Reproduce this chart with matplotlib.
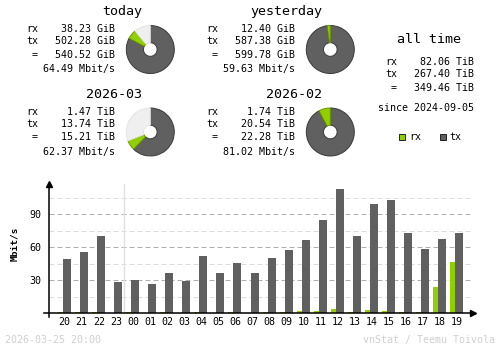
import numpy as np
import matplotlib
matplotlib.use("Agg")
import matplotlib.pyplot as plt
from matplotlib.patches import Wedge, Rectangle

# summary blocks
periods = ["today", "yesterday", "2026-03", "2026-02"]
rx_vals = [38.23, 12.40, 1.47, 1.74]
tx_vals = [502.28, 587.38, 13.74, 20.54]
totals = [540.52, 599.78, 15.21, 22.28]
units = ["GiB", "GiB", "TiB", "TiB"]
rates = [64.49, 59.63, 62.37, 81.02]
filled = [0.89, 1.0, 0.69, 1.0]   # share of the donut that is coloured

all_rx, all_tx, all_total = 82.06, 267.40, 349.46
since = "2024-09-05"

# hourly averages, Mbit/s
hours = ["20", "21", "22", "23", "00", "01", "02", "03", "04", "05", "06", "07",
         "08", "09", "10", "11", "12", "13", "14", "15", "16", "17", "18", "19"]
hour_rx = [1.0, 1.0, 1.0, 0.2, 1.0, 0.2, 1.0, 0.2, 1.0, 0.2, 1.0, 0.2,
           1.0, 1.0, 2.1, 2.1, 3.9, 1.0, 3.0, 2.1, 1.0, 1.0, 23.9, 46.7]
hour_tx = [49.4, 55.8, 70.3, 28.5, 30.3, 26.7, 36.7, 29.4, 52.1, 36.7, 45.8, 36.7,
           50.3, 57.6, 66.7, 84.8, 113.0, 70.3, 99.4, 103.0, 73.0, 58.5, 67.6, 73.0]

RX = "#92cf00"
TX = "#606060"
MONO = "DejaVu Sans Mono"
plt.rcParams["font.family"] = MONO

fig = plt.figure(figsize=(5, 3.48), dpi=100)
bg = fig.add_axes([0, 0, 1, 1])
bg.set_xlim(0, 500)
bg.set_ylim(348, 0)
bg.axis("off")


def donut(cx, cy, rx, tx, fill):
    r, rin = 24, 6.8
    total = 360 * fill
    tx_ang = total * tx / (rx + tx)
    # angles are given clockwise from 12 o'clock; y axis is flipped
    parts = [(0, tx_ang, TX, "#3a3a3a"),
             (tx_ang, total, RX, "#6a9600"),
             (total, 360, "#efefef", "#e4e4e4")]
    for a, b, col, ec in parts:
        if b - a <= 0:
            continue
        bg.add_patch(Wedge((cx, cy), r, a - 90, b - 90, width=r - rin,
                           facecolor=col, edgecolor=ec, linewidth=0.7))


def block(x0, y0, i):
    bg.text(x0 + 116, y0 - 17.5, periods[i], fontsize=9.6, ha="right", va="center")
    rows = [("rx", rx_vals[i]), ("tx", tx_vals[i]), (" =", totals[i])]
    for k, ((lab, v), dy) in enumerate(zip(rows, [0, 12, 25])):
        bg.text(x0, y0 + dy, lab, fontsize=7.2, ha="left", va="center")
        bg.text(x0 + 89, y0 + dy, f"{v:.2f} {units[i]}", fontsize=7.2,
                ha="right", va="center")
    bg.text(x0 + 89, y0 + 39.5, f"{rates[i]:.2f} Mbit/s", fontsize=7.2,
            ha="right", va="center")
    donut(x0 + 124.3, y0 + 20, rx_vals[i], tx_vals[i], filled[i])


for i, (x0, y0) in enumerate([(26, 29.5), (206, 29.5), (26, 112), (206, 112)]):
    block(x0, y0, i)

# all time
bg.text(429, 39.5, "all time", fontsize=9.6, ha="center", va="center")
for lab, v, y in [("rx", all_rx, 62), ("tx", all_tx, 74), (" =", all_total, 88.3)]:
    bg.text(385, y, lab, fontsize=7.2, ha="left", va="center")
    bg.text(474.5, y, f"{v:.2f} TiB", fontsize=7.2, ha="right", va="center")
bg.text(474.5, 108.3, f"since {since}", fontsize=7.2, ha="right", va="center")
bg.add_patch(Rectangle((399, 134), 5.5, 5.5, facecolor=RX, edgecolor="#202020", linewidth=0.7))
bg.text(409, 136.7, "rx", fontsize=7.2, ha="left", va="center")
bg.add_patch(Rectangle((440, 134), 5.5, 5.5, facecolor=TX, edgecolor="#202020", linewidth=0.7))
bg.text(449, 136.7, "tx", fontsize=7.2, ha="left", va="center")

bg.text(15, 244, "Mbit/s", fontsize=6.8, fontweight="bold", rotation=90,
        ha="center", va="center")
bg.text(5, 340, "2026-03-25 20:00", fontsize=7.2, color="#d0d0d0", va="center")
bg.text(495, 340, "vnStat / Teemu Toivola", fontsize=7.2, color="#d0d0d0",
        ha="right", va="center")

# hourly chart
ax = fig.add_axes([49 / 500, (348 - 313.3) / 348, (475.6 - 49) / 500, (313.3 - 182) / 348])
ax.patch.set_alpha(0)
for s in ax.spines.values():
    s.set_visible(False)
ax.set_xlim(-0.82, 24.2)
ax.set_ylim(0, 119.4)

x = np.arange(len(hours))
px = 1 / 17.05
for v in [15, 45, 75, 105]:
    ax.plot([-0.82, 24.03], [v, v], color="#dcdcdc", lw=0.72, dashes=(5, 3), zorder=1)
for v in [30, 60, 90]:
    ax.plot([-0.82, 24.03], [v, v], color="#b0b0b0", lw=0.72, dashes=(5, 3), zorder=1)
ax.plot([3.59, 3.59], [0, 117.5], color="#e0e0e0", lw=1, zorder=1)

ax.bar(x - 5 * px, hour_rx, width=5 * px, align="edge", color=RX, linewidth=0, zorder=2)
ax.bar(x, hour_tx, width=8 * px, align="edge", color=TX, linewidth=0, zorder=2)

ax.plot([-0.82, -0.82], [-3.1, 117.5], color="black", lw=1.1, clip_on=False, zorder=3)
ax.plot([-1.11, 24.0], [0, 0], color="black", lw=1.1, clip_on=False, zorder=3)
ax.plot([-0.82], [117.8], marker="^", ms=4, color="black", clip_on=False, zorder=3)
ax.plot([24.05], [0], marker=">", ms=4, color="black", clip_on=False, zorder=3)

ax.set_xticks(x + 0.1)
ax.set_xticklabels(hours, fontsize=7.2)
ax.set_yticks([30, 60, 90])
ax.set_yticklabels(["30", "60", "90"], fontsize=7.2)
ax.tick_params(length=0)
ax.tick_params(axis="x", pad=2.5)
ax.tick_params(axis="y", pad=5.5)

fig.savefig("out.png", dpi=100)
